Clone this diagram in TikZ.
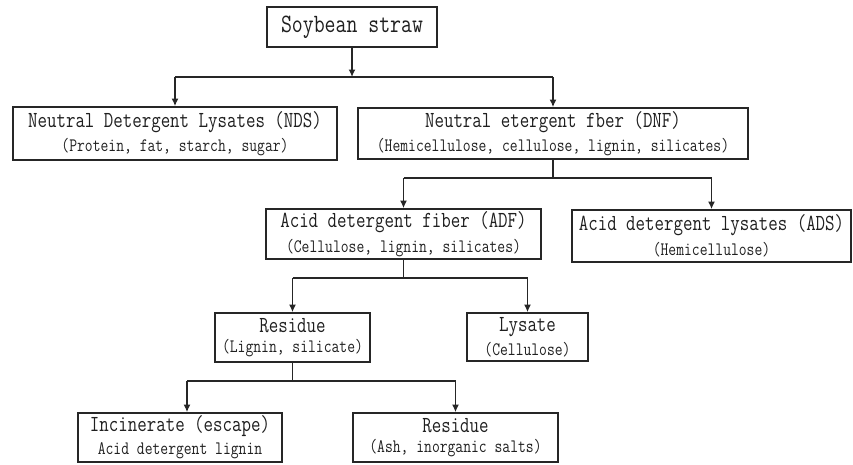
\documentclass[tikz,border=0pt]{standalone}
\usepackage{fontspec}
\setmainfont[FakeStretch=0.8]{Latin Modern Mono}
\usetikzlibrary{arrows.meta}
\newcommand\lineA{\fontsize{23}{24}\selectfont}
\newcommand\lineB{\fontsize{19}{20}\selectfont}
\newcommand\lineT{\fontsize{26.5}{28}\selectfont}
\begin{document}
\begin{tikzpicture}[x=1pt,y=-1pt,
  box/.style={draw=black!85, line width=1.7pt, inner sep=0pt, align=center, text=black!88},
  link/.style={draw=black!85, line width=1.6pt},
  arr/.style={link, -{Latex[length=7.5pt,width=7pt]}}]
\useasboundingbox (0,0) rectangle (853,464);
% boxes
\node[box, minimum width=170pt, minimum height=40pt] (S) at (352,27) {\lineT Soybean straw};
\node[box, minimum width=324pt, minimum height=53pt] (NDS) at (175,133.5)
  {\lineA Neutral Detergent Lysates (NDS)\\[5pt]\lineB (Protein, fat, starch, sugar)};
\node[box, minimum width=390pt, minimum height=51pt] (DNF) at (553,133.5)
  {\lineA Neutral etergent fber (DNF)\\[5pt]\lineB (Hemicellulose, cellulose, lignin, silicates)};
\node[box, minimum width=275pt, minimum height=50pt] (ADF) at (403.5,234)
  {\lineA Acid detergent fiber (ADF)\\[5pt]\lineB (Cellulose, lignin, silicates)};
\node[box, minimum width=279pt, minimum height=52pt] (ADS) at (711.5,236)
  {\lineA Acid detergent lysates (ADS)\\[5pt]\lineB (Hemicellulose)};
\node[box, minimum width=155pt, minimum height=49pt] (R1) at (292.5,337.5)
  {\lineA Residue\\[5pt]\lineB (Lignin, silicate)};
\node[box, minimum width=121pt, minimum height=48pt] (LY) at (527.5,337)
  {\lineA Lysate\\[5pt]\lineB (Cellulose)};
\node[box, minimum width=204pt, minimum height=49pt] (INC) at (180,437.5)
  {\lineA Incinerate (escape)\\[5pt]\lineB Acid detergent lignin};
\node[box, minimum width=205pt, minimum height=49pt] (R2) at (455.5,437.5)
  {\lineA Residue\\[5pt]\lineB (Ash, inorganic salts)};
% junction levels
\coordinate (y1) at (0,77);
\coordinate (y2) at (0,178);
\coordinate (y3) at (0,278);
\coordinate (y4) at (0,381);
\coordinate (x4) at (187,0);
% level 1
\draw[arr] (S.south) -- (S.south |- y1);
\draw[link] (NDS.north |- y1) -- (DNF.north |- y1);
\draw[arr] (NDS.north |- y1) -- (NDS.north);
\draw[arr] (DNF.north |- y1) -- (DNF.north);
% level 2
\draw[link] (DNF.south) -- (DNF.south |- y2);
\draw[link] (ADF.north |- y2) -- (ADS.north |- y2);
\draw[arr] (ADF.north |- y2) -- (ADF.north);
\draw[arr] (ADS.north |- y2) -- (ADS.north);
% level 3
\draw[link] (ADF.south) -- (ADF.south |- y3);
\draw[link] (R1.north |- y3) -- (LY.north |- y3);
\draw[arr] (R1.north |- y3) -- (R1.north);
\draw[arr] (LY.north |- y3) -- (LY.north);
% level 4
\draw[link] (R1.south) -- (R1.south |- y4);
\draw[link] (x4 |- y4) -- (R2.north |- y4);
\draw[arr] (x4 |- y4) -- (x4 |- INC.north);
\draw[arr] (R2.north |- y4) -- (R2.north);
\end{tikzpicture}
\end{document}
